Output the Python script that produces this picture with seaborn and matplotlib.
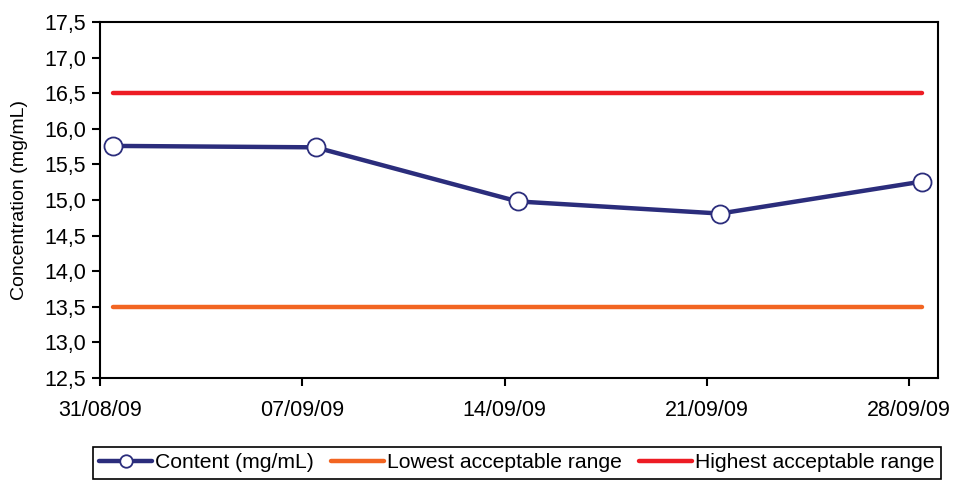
import numpy as np
import pandas as pd
import matplotlib
matplotlib.use("Agg")
import matplotlib.pyplot as plt
import matplotlib.dates as mdates
from matplotlib.ticker import FuncFormatter
import seaborn as sns

dates = ["2009-08-31", "2009-09-07", "2009-09-14", "2009-09-21", "2009-09-28"]
content = [15.76, 15.74, 14.98, 14.81, 15.26]
lowest = [13.5, 13.5, 13.5, 13.5, 13.5]
highest = [16.5, 16.5, 16.5, 16.5, 16.5]

sns.set_style("ticks")
plt.rcParams["font.family"] = ["Liberation Sans", "DejaVu Sans"]
plt.rcParams["text.color"] = "black"
plt.rcParams["xtick.color"] = "black"
plt.rcParams["ytick.color"] = "black"
plt.rcParams["axes.labelcolor"] = "black"

df = pd.DataFrame({
    "date": pd.to_datetime(dates) + pd.Timedelta(hours=11),
    "Content (mg/mL)": content,
    "Lowest acceptable range": lowest,
    "Highest acceptable range": highest,
})

fig = plt.figure(figsize=(9.66, 4.84), dpi=100)
ax = fig.add_axes([0.1035, 0.219, 0.8675, 0.7355])

sns.lineplot(data=df, x="date", y="Content (mg/mL)", ax=ax, color="#2b2d7c",
             linewidth=3.2, marker="o", markersize=13, markerfacecolor="white",
             markeredgecolor="#2b2d7c", markeredgewidth=1.3,
             label="Content (mg/mL)", zorder=3)
sns.lineplot(data=df, x="date", y="Lowest acceptable range", ax=ax,
             color="#f26522", linewidth=3.2, label="Lowest acceptable range")
sns.lineplot(data=df, x="date", y="Highest acceptable range", ax=ax,
             color="#ed1c24", linewidth=3.2, label="Highest acceptable range")

ax.set_ylim(12.5, 17.5)
ax.set_yticks(np.arange(12.5, 17.51, 0.5))
ax.yaxis.set_major_formatter(FuncFormatter(lambda v, p: f"{v:.1f}".replace(".", ",")))
ax.set_xlim(pd.Timestamp("2009-08-31"), pd.Timestamp("2009-09-29"))
ax.set_xticks(pd.to_datetime(dates))
ax.xaxis.set_major_formatter(mdates.DateFormatter("%d/%m/%y"))

ax.set_xlabel("")
ax.set_ylabel("Concentration (mg/mL)", fontsize=14, labelpad=12)
ax.tick_params(axis="both", labelsize=15.5, length=6, width=1.5, color="black",
               direction="out")
ax.tick_params(axis="x", pad=10)
ax.tick_params(axis="y", pad=4)
for s in ax.spines.values():
    s.set_color("black")
    s.set_linewidth(1.5)
    s.set_visible(True)

leg = ax.legend(loc="upper center", bbox_to_anchor=(0.535, 0.0764),
                bbox_transform=fig.transFigure, ncol=3, fontsize=15.2,
                frameon=True, fancybox=False, edgecolor="black",
                handlelength=2.5, handletextpad=0.15, columnspacing=0.8,
                borderpad=0.3, borderaxespad=0, framealpha=1)
leg.get_frame().set_linewidth(1.2)
for h in leg.legend_handles:
    h.set_markersize(9)

fig.savefig("out.png", dpi=100)
